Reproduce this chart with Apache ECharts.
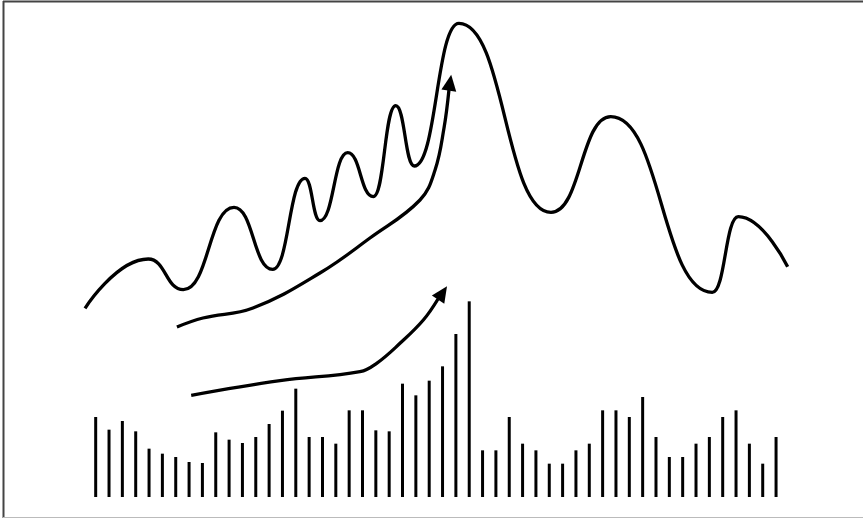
<!DOCTYPE html>
<html>
<head>
<meta charset="utf-8">
<script src="https://cdn.jsdelivr.net/npm/echarts@6/dist/echarts.min.js"></script>
<style>html,body{margin:0;padding:0;background:#fff;}#c{width:863px;height:519px;}</style>
</head>
<body>
<div id="c"></div>
<script>
// Volume bars (one per period, index 0..51)
const volumes = [12, 10.1, 11.4, 9.85, 7.25, 6.5, 6, 5.25, 5.1, 9.7, 8.6, 8.1, 9, 10.95, 12.95, 16.25,
  9, 9, 8, 13, 13, 10, 9.85, 17, 15.25, 17.45, 19.6, 24.45, 29.35,
  7, 7, 12, 8, 7, 5, 5, 7, 8, 13, 13, 12, 15, 9, 6, 6, 8, 9, 12, 13, 8, 5, 9];

// Price curve: turning points (period, price)
const priceX = [-0.80, 3.94, 6.57, 10.37, 13.27, 15.69, 16.81, 18.89, 20.81, 22.49, 23.88, 27.23, 34.13, 38.61, 46.22, 48.17, 51.87];
const priceY = [28.3, 35.7, 31.1, 43.45, 34.15, 47.8, 41.45, 51.65, 45.05, 58.7, 49.65, 71.05, 42.7, 57.05, 30.7, 42.05, 34.55];

// Upper trend arrow (period, price)
const upArrowX = [6.09, 8.04, 11.79, 16.81, 20.56, 24.31, 25.44, 26.11, 26.48];
const upArrowY = [25.5, 26.85, 28.35, 33.6, 38.85, 44.55, 49.05, 55.35, 61.05];
const upHead = [26.56, 62.15];

// Lower volume trend arrow
const lowArrowX = [7.16, 13.82, 19.81, 21.06, 22.81, 24.56, 25.66];
const lowArrowY = [15.25, 17.45, 18.8, 20.05, 23.05, 26.55, 29.7];
const lowHead = [26.0, 30.6];

const zip = (xs, ys) => xs.map((x, i) => [x, ys[i]]);

const chart = echarts.init(document.getElementById('c'), null, {renderer: 'canvas'});
chart.setOption({
  animation: false,
  backgroundColor: '#fff',
  grid: {left: 2.3, right: 6.9, top: 0, bottom: 22},
  xAxis: {type: 'value', min: -7, max: 57, show: false},
  yAxis: {type: 'value', min: 0, max: 74.55, show: false},
  graphic: [
    {type: 'line', shape: {x1: 3, y1: 1.5, x2: 863, y2: 1.5}, style: {stroke: '#444', lineWidth: 2}},
    {type: 'line', shape: {x1: 3.5, y1: 1, x2: 3.5, y2: 518}, style: {stroke: '#444', lineWidth: 2}},
    {type: 'line', shape: {x1: 3, y1: 517.5, x2: 863, y2: 517.5}, style: {stroke: '#bbb', lineWidth: 1}}
  ],
  series: [
    {
      type: 'bar',
      data: volumes.map((v, i) => [i, v]),
      barWidth: 3,
      itemStyle: {color: '#000'},
      silent: true
    },
    {
      type: 'line',
      data: zip(priceX, priceY),
      smooth: true,
      smoothMonotone: 'x',
      showSymbol: false,
      symbol: 'none',
      lineStyle: {color: '#000', width: 3.3, opacity: 1}
    },
    {
      type: 'line',
      data: zip(upArrowX, upArrowY),
      smooth: 0.4,
      showSymbol: false,
      symbol: 'none',
      lineStyle: {color: '#000', width: 3.3, opacity: 1}
    },
    {
      type: 'line',
      data: zip(lowArrowX, lowArrowY),
      smooth: 0.4,
      showSymbol: false,
      symbol: 'none',
      lineStyle: {color: '#000', width: 3.3, opacity: 1}
    },
    {
      type: 'scatter',
      symbol: 'triangle',
      symbolSize: [15, 16],
      itemStyle: {color: '#000', opacity: 1},
      data: [
        {value: upHead, symbolRotate: -8.5},
        {value: lowHead, symbolRotate: -34}
      ]
    }
  ]
});
</script>
</body>
</html>
